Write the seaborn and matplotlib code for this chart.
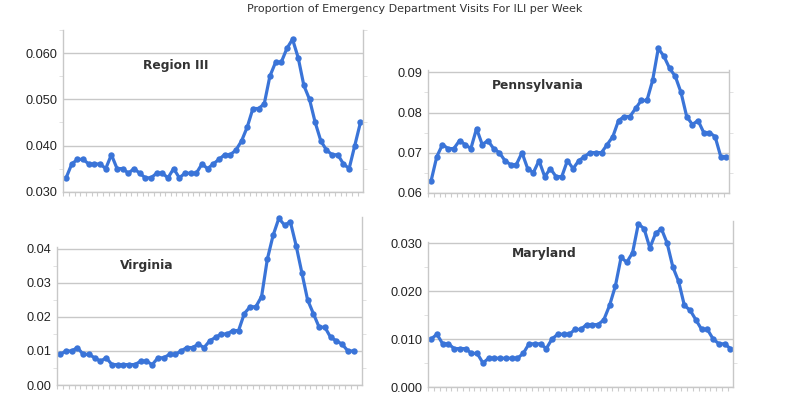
import numpy as np
import pandas as pd
import matplotlib
matplotlib.use("Agg")
import matplotlib.pyplot as plt
from matplotlib.ticker import MultipleLocator, FormatStrFormatter, FixedLocator
import seaborn as sns

title = "Proportion of Emergency Department Visits For ILI per Week"

region_iii = [0.033, 0.036, 0.037, 0.037, 0.036, 0.036, 0.036, 0.035, 0.038, 0.035,
              0.035, 0.034, 0.035, 0.034, 0.033, 0.033, 0.034, 0.034, 0.033, 0.035,
              0.033, 0.034, 0.034, 0.034, 0.036, 0.035, 0.036, 0.037, 0.038, 0.038,
              0.039, 0.041, 0.044, 0.048, 0.048, 0.049, 0.055, 0.058, 0.058, 0.061,
              0.063, 0.059, 0.053, 0.050, 0.045, 0.041, 0.039, 0.038, 0.038, 0.036,
              0.035, 0.040, 0.045]

pennsylvania = [0.063, 0.069, 0.072, 0.071, 0.071, 0.073, 0.072, 0.071, 0.076, 0.072,
                0.073, 0.071, 0.070, 0.068, 0.067, 0.067, 0.070, 0.066, 0.065, 0.068,
                0.064, 0.066, 0.064, 0.064, 0.068, 0.066, 0.068, 0.069, 0.070, 0.070,
                0.070, 0.072, 0.074, 0.078, 0.079, 0.079, 0.081, 0.083, 0.083, 0.088,
                0.096, 0.094, 0.091, 0.089, 0.085, 0.079, 0.077, 0.078, 0.075, 0.075,
                0.074, 0.069, 0.069]

virginia = [0.009, 0.010, 0.010, 0.011, 0.009, 0.009, 0.008, 0.007, 0.008, 0.006,
            0.006, 0.006, 0.006, 0.006, 0.007, 0.007, 0.006, 0.008, 0.008, 0.009,
            0.009, 0.010, 0.011, 0.011, 0.012, 0.011, 0.013, 0.014, 0.015, 0.015,
            0.016, 0.016, 0.021, 0.023, 0.023, 0.026, 0.037, 0.044, 0.049, 0.047,
            0.048, 0.041, 0.033, 0.025, 0.021, 0.017, 0.017, 0.014, 0.013, 0.012,
            0.010, 0.010]

maryland = [0.010, 0.011, 0.009, 0.009, 0.008, 0.008, 0.008, 0.007, 0.007, 0.005,
            0.006, 0.006, 0.006, 0.006, 0.006, 0.006, 0.007, 0.009, 0.009, 0.009,
            0.008, 0.010, 0.011, 0.011, 0.011, 0.012, 0.012, 0.013, 0.013, 0.013,
            0.014, 0.017, 0.021, 0.027, 0.026, 0.028, 0.034, 0.033, 0.029, 0.032,
            0.033, 0.030, 0.025, 0.022, 0.017, 0.016, 0.014, 0.012, 0.012, 0.010,
            0.009, 0.009, 0.008]

panel_names = ["Region III", "Pennsylvania", "Virginia", "Maryland"]
panel_values = [region_iii, pennsylvania, virginia, maryland]

sns.set_style("white")
plt.rcParams["font.family"] = ["DejaVu Sans"]

LINE = "#3a74d8"
GRID = "#c8c8c8"
W, H = 800, 400

fig = plt.figure(figsize=(8, 4), dpi=100)


def px_axes(l, r, t, b):
    return fig.add_axes([l / W, 1 - b / H, (r - l) / W, (b - t) / H])


# (left, right, top, bottom) in pixels, ylim, major step, fmt, left-spine top, label pos
layout = [
    ((63, 363, 30, 191.7), (0.030, 0.0650), 0.010, "%.3f", None, (176, 65)),
    ((428, 729, 70, 192.7), (0.060, 0.0906), 0.010, "%.2f", None, (538, 85)),
    ((57, 362, 217, 385), (0.0, 0.0494), 0.010, "%.2f", 0.0405, (147, 265)),
    ((428, 733, 221, 387), (0.0, 0.0346), 0.010, "%.3f", 0.0302, (544, 254)),
]

for name, vals, (box, ylim, step, fmt, spine_top, lab) in zip(panel_names, panel_values, layout):
    ax = px_axes(*box)
    df = pd.DataFrame({"week": np.arange(len(vals)), "value": vals})
    sns.lineplot(data=df, x="week", y="value", ax=ax, color=LINE, linewidth=2.3,
                 marker="o", markersize=4.6, markeredgewidth=0, clip_on=False)
    ax.set_xlim(-0.55, 52.45)
    ax.set_ylim(*ylim)
    ax.set_xlabel("")
    ax.set_ylabel("")
    top = spine_top if spine_top is not None else ylim[1]
    ax.yaxis.set_major_locator(MultipleLocator(step))
    ax.yaxis.set_minor_locator(FixedLocator(np.arange(ylim[0] + step / 2, top, step)))
    ax.yaxis.set_major_formatter(FormatStrFormatter(fmt))
    ax.xaxis.set_major_locator(FixedLocator(np.arange(-0.5, 53, 1.0)))
    ax.set_xticklabels([])
    ax.grid(axis="y", which="major", color=GRID, linewidth=1.0)
    ax.set_axisbelow(True)
    for s in ["left", "bottom", "right"]:
        ax.spines[s].set_visible(True)
        ax.spines[s].set_color(GRID)
        ax.spines[s].set_linewidth(1.0)
    ax.spines["top"].set_visible(False)
    if spine_top is not None:
        ax.spines["left"].set_bounds(ylim[0], spine_top)
    ax.tick_params(axis="y", which="major", length=0, pad=4, labelsize=9.2,
                   labelcolor="#222222")
    ax.tick_params(axis="y", which="minor", length=3, color="#dddddd",
                   left=True, right=True, direction="out")
    ax.tick_params(axis="x", which="major", length=3, color="#cccccc",
                   bottom=True, direction="out")
    for t in ax.get_yticklabels():
        t.set_fontfamily(["Liberation Sans", "DejaVu Sans"])
    fig.text(lab[0] / W, 1 - lab[1] / H, name, ha="center", va="center",
             fontsize=8.8, fontweight="bold", color="#333333")

fig.text(415 / W, 1 - 8.5 / H, title, ha="center", va="center",
         fontsize=8.0, color="#333333")

fig.savefig("out.png", dpi=100, facecolor="white")
